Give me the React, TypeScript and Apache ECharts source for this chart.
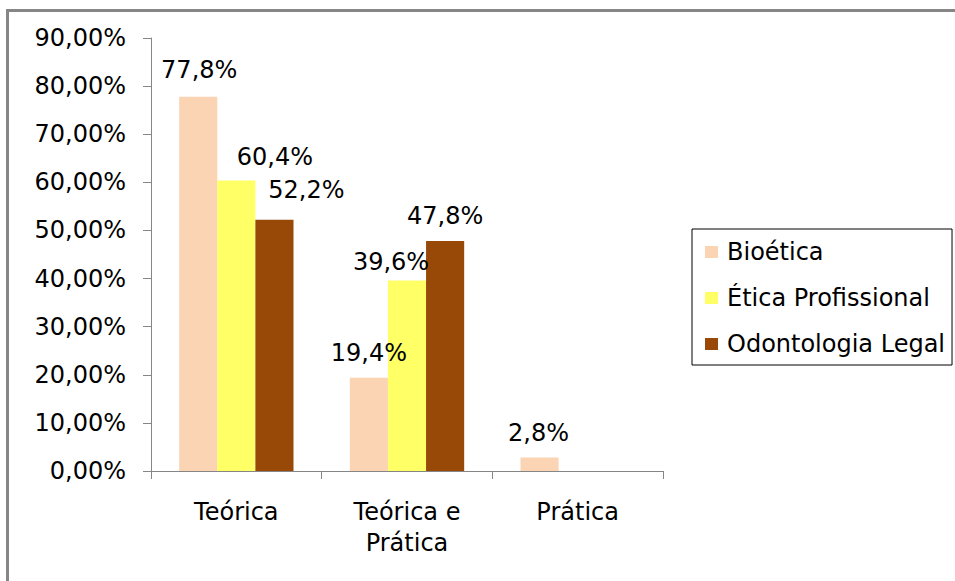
import React, { useEffect, useRef } from "react";
import * as echarts from "echarts";

const categories = ["Teórica", "Teórica e\nPrática", "Prática"];
const seriesNames = ["Bioética", "Ética Profissional", "Odontologia Legal"];
const bioetica = [77.8, 19.4, 2.8];
const eticaProfissional = [60.4, 39.6, 0];
const odontologiaLegal = [52.2, 47.8, 0];
const yTicks = [0, 10, 20, 30, 40, 50, 60, 70, 80, 90];

const seriesValues = [bioetica, eticaProfissional, odontologiaLegal];
const colors = ["#FBD4B4", "#FFFF66", "#984807"];
// label nudges [dx, dy] per series / category, as placed in the original
const labelOffsets = [
  [[1, -2], [0, 0.5], [-1, 0.5]],
  [[38.5, 1.5], [-16, 6.5], [0, 0]],
  [[32, -4.5], [0, 0], [0, 0]],
];

const FONT = "DejaVu Sans";
const fmt = (v: number, d: number) => v.toFixed(d).replace(".", ",") + "%";

export default function App() {
  const ref = useRef<HTMLDivElement>(null);
  useEffect(() => {
    document.body.style.margin = "0";
    const chart = echarts.init(ref.current!, null, { renderer: "svg" });
    chart.setOption({
      animation: false,
      backgroundColor: "#ffffff",
      textStyle: { fontFamily: FONT },
      graphic: [
        {
          type: "polyline",
          shape: { points: [[7.5, 600], [7.5, 10.5], [1000, 10.5]] },
          style: { fill: "none", stroke: "#868686", lineWidth: 3 },
          silent: true,
        },
      ],
      grid: { left: 151, right: 292, top: 38, bottom: 110, containLabel: false },
      legend: {
        orient: "vertical",
        left: 692,
        top: 229,
        data: seriesNames,
        icon: "rect",
        itemWidth: 13,
        itemHeight: 12,
        itemGap: 22,
        padding: [11, 7, 9, 13],
        borderColor: "#000000",
        borderWidth: 1,
        borderRadius: 0,
        textStyle: {
          fontFamily: FONT,
          fontSize: 24,
          lineHeight: 24,
          color: "#000000",
          padding: [0, 0, 0, 4],
        },
      },
      xAxis: {
        type: "category",
        data: categories,
        axisLine: { show: true, lineStyle: { color: "#868686", width: 1 } },
        axisTick: { show: true, length: 8, lineStyle: { color: "#868686" } },
        axisLabel: {
          fontFamily: FONT,
          fontSize: 24,
          lineHeight: 31,
          color: "#000000",
          margin: 25,
          interval: 0,
        },
        splitLine: { show: false },
      },
      yAxis: {
        type: "value",
        min: yTicks[0],
        max: yTicks[yTicks.length - 1],
        interval: 10,
        axisLine: { show: true, lineStyle: { color: "#868686", width: 1 } },
        axisTick: { show: true, length: 8, lineStyle: { color: "#868686" } },
        axisLabel: {
          fontFamily: FONT,
          fontSize: 24,
          color: "#000000",
          margin: 25,
          formatter: (v: number) => fmt(v, 2),
        },
        splitLine: { show: false },
      },
      series: seriesNames.map((name, si) => ({
        name,
        type: "bar",
        barGap: "0%",
        barCategoryGap: "33%",
        itemStyle: { color: colors[si] },
        label: {
          show: true,
          position: "top",
          distance: 13,
          fontFamily: FONT,
          fontSize: 24,
          lineHeight: 24,
          color: "#000000",
          formatter: (p: any) => (p.value ? fmt(p.value, 1) : ""),
        },
        data: seriesValues[si].map((v, ci) => ({
          value: v,
          label: { offset: labelOffsets[si][ci] },
        })),
      })),
    });
    return () => chart.dispose();
  }, []);
  return (
    <div
      ref={ref}
      style={{ position: "absolute", left: 0, top: 0, width: 955, height: 581 }}
    />
  );
}
